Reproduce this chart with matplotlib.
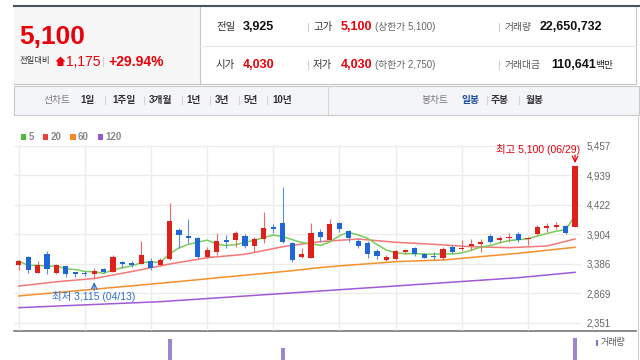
import matplotlib.pyplot as plt
from matplotlib.patches import Rectangle, Polygon
import pandas as pd

plt.rcParams['font.family'] = ['Liberation Sans', 'Noto Sans CJK KR', 'DejaVu Sans']

# daily candles, oldest first (last one = 06/29)
opens = [3366, 3511, 3231, 3564, 3231, 3349, 3238, 3214, 3203, 3296,
         3249, 3424, 3396, 3378, 3436, 3366, 3471, 3979, 3873, 3844,
         3511, 3599, 3798, 3804, 3873, 3704, 3816, 4036, 4096, 3746,
         3511, 3483, 3938, 3804, 4096, 3961, 3791, 3756, 3611, 3453,
         3471, 3594, 3658, 3553, 3529, 3483, 3686, 3641, 3698, 3734,
         3873, 3804, 3833, 3908, 3816, 3903, 4019, 4031, 4048, 4030]
highs = [3462, 3529, 3436, 3611, 3389, 3357, 3243, 3261, 3313, 3313,
         3536, 3441, 3431, 3786, 3488, 3494, 4456, 4008, 4166, 3856,
         3676, 3921, 3891, 3966, 3908, 3851, 4299, 4078, 4736, 3774,
         3658, 4096, 3996, 4166, 4124, 3979, 3844, 3786, 3641, 3541,
         3629, 3646, 3676, 3571, 3588, 3686, 3716, 3804, 3816, 3816,
         3903, 3873, 3921, 3938, 3861, 4066, 4096, 4124, 4066, 5100]
lows = [3280, 3221, 3221, 3203, 3217, 3161, 3156, 3173, 3115, 3221,
        3240, 3319, 3336, 3375, 3279, 3357, 3453, 3658, 3746, 3488,
        3494, 3541, 3658, 3686, 3658, 3599, 3746, 3921, 3746, 3424,
        3483, 3480, 3774, 3795, 3949, 3763, 3658, 3483, 3466, 3441,
        3453, 3558, 3523, 3480, 3453, 3453, 3571, 3611, 3629, 3599,
        3746, 3774, 3774, 3774, 3716, 3891, 3949, 3991, 3916, 4030]
closes = [3436, 3279, 3366, 3291, 3366, 3203, 3203, 3203, 3256, 3238,
          3501, 3389, 3371, 3536, 3308, 3448, 4141, 3891, 3844, 3501,
          3629, 3786, 3774, 3921, 3698, 3816, 4019, 4001, 3774, 3445,
          3553, 3921, 3851, 4078, 3991, 3844, 3698, 3558, 3523, 3511,
          3611, 3616, 3558, 3494, 3501, 3641, 3599, 3658, 3728, 3774,
          3774, 3833, 3861, 3804, 3844, 4026, 4048, 4066, 3925, 5100]
volumes = [1.2, 2.5, 1.8, 3.0, 1.5, 1.4, 0.9, 0.8, 1.1, 0.7,
           2.6, 1.3, 0.9, 4.1, 1.9, 1.2, 22.4, 9.8, 6.5, 5.2,
           3.9, 5.6, 3.1, 4.4, 3.3, 2.8, 8.7, 3.6, 19.9, 6.1,
           2.4, 9.5, 3.2, 5.8, 3.0, 2.6, 2.7, 3.4, 1.9, 1.2,
           2.0, 1.1, 1.5, 1.3, 0.9, 2.2, 1.6, 1.8, 1.7, 2.1,
           1.9, 1.4, 1.6, 2.0, 1.3, 3.8, 2.4, 2.2, 2.6, 22.65]  # millions

# longer moving averages (candle index -> price)
ma20_idx = [0, 4, 8, 12, 16, 20, 24, 28, 32, 36, 40, 44, 48, 52, 56, 59]
ma20_val = [2998, 3072, 3130, 3252, 3383, 3494, 3553, 3686, 3774, 3821, 3763, 3728, 3686, 3669, 3698, 3821]
ma60_idx = [0, 15, 29, 32, 34, 40, 45, 53, 59]
ma60_val = [2824, 3046, 3266, 3322, 3350, 3424, 3454, 3571, 3676]
ma120_idx = [0, 15, 32, 40, 53, 59]
ma120_val = [2619, 2724, 2911, 2999, 3144, 3238]

price_ticks = [2351, 2869, 3386, 3904, 4422, 4939, 5457]
grid_idx = [0, 7, 14, 20, 27, 34, 40, 47, 54]
hi_date, lo_date = '06/29', '04/13'

RED = '#e8000b'
C_UP, C_DN = '#e0201b', '#1f66d6'
W, H = 640, 360


def box(x0, y0, x1, y1):
    return [x0 / W, 1 - y1 / H, (x1 - x0) / W, (y1 - y0) / H]


fig = plt.figure(figsize=(6.4, 3.6), dpi=100)
bg = fig.add_axes([0, 0, 1, 1])
bg.set_xlim(0, W)
bg.set_ylim(H, 0)
bg.axis('off')

# ---- header
bg.plot([14, 640], [6, 6], color='#4c5260', lw=1.5)
bg.add_patch(Rectangle((14, 7), 185.5, 76.5, fc='#f7f7f7', ec='none'))
bg.plot([14, 636], [83.5, 83.5], color='#c4c4c4', lw=0.8)
bg.plot([199.5, 199.5], [7, 83.5], color='#c4c4c4', lw=0.8)
bg.plot([636, 636], [7, 83.5], color='#c4c4c4', lw=0.8)
bg.plot([200, 636], [46, 46], color='#e8e8e8', lw=0.8)

bg.text(19, 37, '5,100', color=RED, fontsize=19, fontweight='bold', va='center')
bg.text(20, 61.5, '전일대비', fontsize=6, color='#333', va='center')
bg.add_patch(Polygon([(60.5, 56.5), (65.5, 61.5), (63.5, 61.5), (63.5, 66),
                      (57.5, 66), (57.5, 61.5), (55.5, 61.5)], fc=RED, ec='none'))
bg.text(66, 61.5, '1,175', color=RED, fontsize=10, va='center')
bg.plot([103, 103], [57, 66], color='#d0d0d0', lw=0.8)
bg.text(108, 61.5, '+29.94%', color=RED, fontsize=10, fontweight='bold', va='center')

for y, lab, val, col in [(27, '전일', '3,925', '#111'), (65, '시가', '4,030', RED)]:
    bg.text(216, y, lab, fontsize=7.5, color='#333', va='center')
    bg.text(243, y, val, fontsize=9, fontweight='bold', color=col, va='center')
for y, lab, val, note in [(27, '고가', '5,100', '(상한가 5,100)'), (65, '저가', '4,030', '(하한가 2,750)')]:
    bg.plot([308, 308], [y - 4, y + 4], color='#cfcfcf', lw=0.8)
    bg.text(313, y, lab, fontsize=7.5, color='#333', va='center')
    bg.text(341, y, val, fontsize=9, fontweight='bold', color=RED, va='center')
    bg.text(375, y, note, fontsize=7, color='#666', va='center')
for y, lab, val, vx in [(27, '거래량', '22,650,732', 540), (65, '거래대금', '110,641', 551)]:
    bg.plot([499, 499], [y - 4, y + 4], color='#cfcfcf', lw=0.8)
    bg.text(505, y, lab, fontsize=7, color='#555', va='center')
    bg.text(vx, y, val, fontsize=9, fontweight='bold', color='#111', va='center')
bg.text(595, 65, '백만', fontsize=7, color='#222', va='center')

# ---- toolbar
bg.add_patch(Rectangle((14, 86), 625, 29, fc='#f4f5f9', ec='#c9c9c9', lw=0.8))
bg.plot([327.5, 327.5], [86, 115], color='#d6d6d6', lw=0.8)
ty = 100
bg.text(43, ty, '선차트', fontsize=7, color='#777', va='center')
for x, s in [(80, '1일'), (112, '1주일'), (149, '3개월'), (186, '1년'),
             (215, '3년'), (244, '5년'), (272, '10년')]:
    bg.text(x, ty, s, fontsize=7, fontweight='bold', color='#333', va='center')
for x in [104.5, 143.5, 181.5, 210, 238.5, 266.5, 486.5, 518.5]:
    bg.plot([x, x], [ty - 4, ty + 4], color='#d4d4d4', lw=0.8)
bg.text(422, ty, '봉차트', fontsize=7, color='#777', va='center')
bg.text(462, ty, '일봉', fontsize=7, fontweight='bold', color='#1d4fa0', va='center')
bg.text(491, ty, '주봉', fontsize=7, fontweight='bold', color='#333', va='center')
bg.text(526, ty, '월봉', fontsize=7, fontweight='bold', color='#333', va='center')

# ---- legend
for x, lab, c in [(20.5, '5', '#4fb83a'), (42.5, '20', '#e8403a'),
                  (70, '60', '#f5891f'), (97.5, '120', '#9a55d0')]:
    bg.add_patch(Rectangle((x, 134), 5.5, 5.5, fc=c, ec='none'))
    bg.text(x + 8, 136.8, lab, fontsize=7, fontweight='bold', color='#888', va='center')

# ---- price chart
ax = fig.add_axes(box(14, 140, 581, 331))
ax.patch.set_alpha(0)
ybot = 2351 - 8 * 17.5
ax.set_ylim(ybot, 5457 + 5.5 * 17.5)
ax.set_xlim(-0.5, 59.63)
ax.hlines(price_ticks, -0.5, 59.63, color='#ececec', lw=1, zorder=0)
ax.vlines(grid_idx, ybot + 25, 5457, color='#ececec', lw=1, zorder=0)
for s in ax.spines.values():
    s.set_visible(False)
ax.set_xticks([])
ax.set_yticks(price_ticks)
ax.set_yticklabels([f'{v:,}' for v in price_ticks])
ax.yaxis.tick_right()
ax.tick_params(axis='y', length=0, pad=4, labelsize=7, labelcolor='#666')

idx = list(range(len(closes)))
ma5 = pd.Series(closes).rolling(5, min_periods=1).mean()
ax.plot(ma120_idx, ma120_val, color='#a05ad6', lw=1.1, zorder=1)
ax.plot(ma60_idx, ma60_val, color='#f5902c', lw=1.1, zorder=1)
ax.plot(ma20_idx, ma20_val, color='#f37878', lw=1.1, zorder=1)
ax.plot(idx, ma5, color='#7acc5a', lw=1.1, zorder=1)

up = [c >= o for o, c in zip(opens, closes)]
cols = [C_UP if u else C_DN for u in up]
wcols = ['#ee6a66' if u else '#5a8fe2' for u in up]
ax.vlines(idx, lows, highs, colors=wcols, lw=0.8, zorder=2)
ax.bar(idx, [max(abs(c - o), 30) for o, c in zip(opens, closes)], 0.55,
       [min(o, c) for o, c in zip(opens, closes)], color=cols, zorder=3)

hi_i = highs.index(max(highs))
lo_i = lows.index(min(lows))
ax.annotate(f'최고 {highs[hi_i]:,} ({hi_date})', xy=(hi_i, highs[hi_i]), xytext=(5, 16),
            textcoords='offset pixels', ha='right', va='center', color=RED, fontsize=7.5)
ax.annotate('', xy=(hi_i, highs[hi_i]), xytext=(0, 11), textcoords='offset pixels',
            arrowprops=dict(arrowstyle='->', color=RED, lw=0.9, shrinkA=0, shrinkB=2))
ax.annotate(f'최저 {lows[lo_i]:,} ({lo_date})', xy=(lo_i, lows[lo_i]), xytext=(0, -17),
            textcoords='offset pixels', ha='center', va='center', color='#2f6fca', fontsize=7.5)
ax.annotate('', xy=(lo_i, lows[lo_i]), xytext=(0, -11), textcoords='offset pixels',
            arrowprops=dict(arrowstyle='->', color='#2f6fca', lw=0.9, shrinkA=0, shrinkB=2))

bg.plot([14, 636], [331, 331], color='#777', lw=1.2)
bg.plot([637.5, 637.5], [115, 360], color='#d0d0d0', lw=0.8)

# ---- volume (panel runs past the bottom edge)
vax = fig.add_axes(box(14, 336, 581, 420))
vax.bar(idx, [v * 1e6 for v in volumes], 0.42, color='#9d86cc')
vax.set_xlim(-0.5, 59.63)
vax.set_ylim(0, 23.2e6)
vax.axis('off')
bg.add_patch(Rectangle((596, 340), 2, 6, fc='#8b6fc4', ec='none'))
bg.text(601, 343, '거래량', fontsize=6.5, color='#555', va='center')

fig.savefig('out.png', dpi=100)
